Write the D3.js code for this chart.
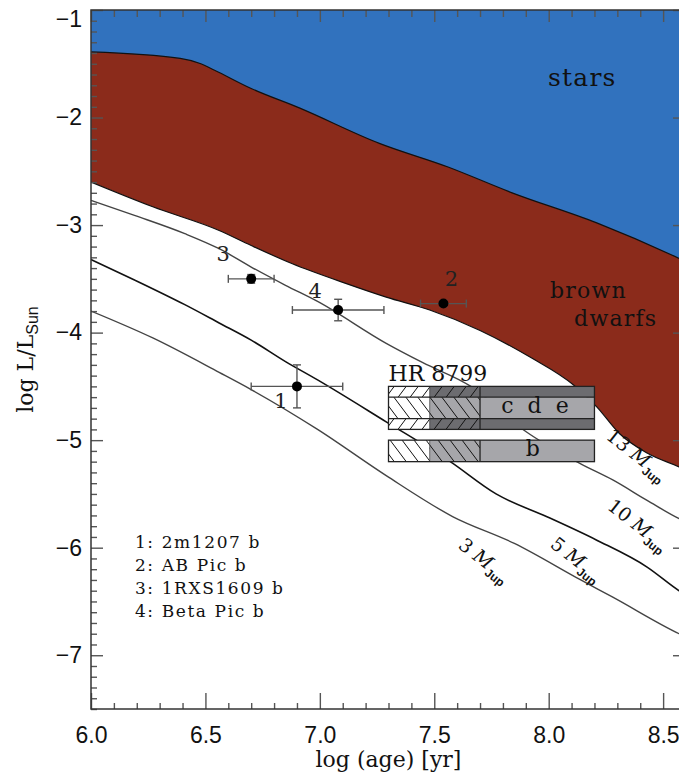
<!DOCTYPE html>
<html><head><meta charset="utf-8">
<script src="https://cdn.jsdelivr.net/npm/d3@7"></script>
<style>body{margin:0;background:#fff}svg{display:block}</style>
</head><body><svg id="chart" width="679" height="781"></svg>
<script>
// ---------- data ----------
const ageTicks = [6.0, 6.5, 7.0, 7.5, 8.0, 8.5];
const lumTicks = [-1, -2, -3, -4, -5, -6, -7];

// stars / brown-dwarf boundary
const starsAge = [6.0, 6.39, 6.48, 6.54, 6.70, 6.91, 7.26, 7.56, 7.84, 8.21, 8.57, 8.6];
const starsLum = [-1.39, -1.45, -1.50, -1.56, -1.73, -1.91, -2.24, -2.46, -2.70, -2.98, -3.31, -3.34];
// 13 MJup (lower edge of brown-dwarf region)
const age13 = [6.0, 6.27, 6.56, 6.70, 6.88, 7.11, 7.29, 7.48, 7.70, 7.92, 8.11, 8.21, 8.31, 8.43, 8.57, 8.6];
const lum13 = [-2.60, -2.83, -3.05, -3.19, -3.36, -3.54, -3.67, -3.79, -3.98, -4.23, -4.49, -4.69, -4.94, -5.12, -5.25, -5.28];
// 10 MJup
const age10 = [6.0, 6.19, 6.41, 6.56, 6.70, 6.85, 6.99, 7.29, 7.45, 7.66, 7.90, 8.14, 8.28, 8.43, 8.57, 8.6];
const lum10 = [-2.77, -2.91, -3.08, -3.22, -3.39, -3.56, -3.71, -4.10, -4.28, -4.50, -4.92, -5.22, -5.37, -5.56, -5.73, -5.76];
// 5 MJup
const age5 = [6.0, 6.19, 6.41, 6.56, 6.70, 6.85, 6.99, 7.29, 7.57, 7.77, 7.99, 8.21, 8.43, 8.57, 8.6];
const lum5 = [-3.32, -3.51, -3.74, -3.91, -4.07, -4.27, -4.44, -4.83, -5.20, -5.50, -5.71, -5.93, -6.18, -6.40, -6.44];
// 3 MJup
const age3 = [6.0, 6.27, 6.56, 6.70, 6.99, 7.29, 7.58, 7.85, 8.14, 8.28, 8.57, 8.6];
const lum3 = [-3.80, -4.05, -4.37, -4.53, -4.90, -5.33, -5.71, -5.96, -6.30, -6.46, -6.80, -6.83];

// companions
const ptIds = ["1", "2", "3", "4"];
const ptAge = [6.90, 7.54, 6.70, 7.08];
const ptAgeErr = [0.20, 0.10, 0.10, 0.20];
const ptLum = [-4.50, -3.73, -3.50, -3.79];
const ptLumErr = [0.20, 0.03, 0.04, 0.10];
const legendNames = ["1: 2m1207 b", "2: AB Pic b", "3: 1RXS1609 b", "4: Beta Pic b"];

// HR 8799 (age bounds: 20, 30, 50, 160 Myr)
const hrAge = [7.30, 7.48, 7.70, 8.20];
const cdeOuter = [-4.9, -4.5];
const cdeInner = [-4.8, -4.6];
const bLum = [-5.2, -5.0];

// ---------- setup ----------
const svg = d3.select("#chart");
const x = d3.scaleLinear().domain([6.0, 8.6]).range([91, 686]);
const y = d3.scaleLinear().domain([-7.5, -1]).range([709, 10]);
const SERIF = "DejaVu Serif, serif";
const SANS = "Liberation Sans, Arial, sans-serif";

const defs = svg.append("defs");
defs.append("clipPath").attr("id", "plotclip").append("rect")
  .attr("x", 91).attr("y", 10).attr("width", 595).attr("height", 699);
function hatch(id, dir) {
  const p = defs.append("pattern").attr("id", id).attr("patternUnits", "userSpaceOnUse")
    .attr("width", 12).attr("height", 16);
  const d = dir === "back"
    ? "M-3,-4 L15,20 M-15,-4 L3,20 M9,-4 L27,20"
    : "M-3,20 L15,-4 M-15,20 L3,-4 M9,20 L27,-4";
  p.append("path").attr("d", d).attr("stroke", "#111").attr("stroke-width", 1).attr("fill", "none");
}
hatch("hback", "back");
hatch("hfwd", "fwd");

const plot = svg.append("g").attr("clip-path", "url(#plotclip)");
const zip = (a, b) => a.map((v, i) => [v, b[i]]);
const yTopVal = y.domain()[1];

// brown region (from 13 MJup up), then stars on top
const area = d3.area().x(d => x(d[0])).y0(y(yTopVal)).y1(d => y(d[1])).curve(d3.curveMonotoneX);
plot.append("path").datum(zip(age13, lum13)).attr("d", area).attr("fill", "#8b2b1b");
plot.append("path").datum(zip(starsAge, starsLum)).attr("d", area).attr("fill", "#3172be");

const line = d3.line().x(d => x(d[0])).y(d => y(d[1])).curve(d3.curveMonotoneX);
plot.append("path").datum(zip(starsAge, starsLum)).attr("d", line).attr("fill", "none").attr("stroke", "#111").attr("stroke-width", 1.2);
plot.append("path").datum(zip(age13, lum13)).attr("d", line).attr("fill", "none").attr("stroke", "#111").attr("stroke-width", 1.2);
plot.append("path").datum(zip(age10, lum10)).attr("d", line).attr("fill", "none").attr("stroke", "#444").attr("stroke-width", 1.4);
plot.append("path").datum(zip(age5, lum5)).attr("d", line).attr("fill", "none").attr("stroke", "#111").attr("stroke-width", 1.6);
plot.append("path").datum(zip(age3, lum3)).attr("d", line).attr("fill", "none").attr("stroke", "#444").attr("stroke-width", 1.4);

// ---------- HR 8799 boxes ----------
const DARK = "#6c6c70", LIGHT = "#a6a6aa";
function band(l0, l1, baseCols, hatchId) {
  for (let i = 0; i < 3; i++) {
    const xa = x(hrAge[i]), xb = x(hrAge[i + 1]);
    plot.append("rect").attr("x", xa).attr("y", y(l1)).attr("width", xb - xa).attr("height", y(l0) - y(l1))
      .attr("fill", baseCols[i]);
    if (i < 2) plot.append("rect").attr("x", xa).attr("y", y(l1)).attr("width", xb - xa).attr("height", y(l0) - y(l1))
      .attr("fill", `url(#${hatchId})`);
  }
}
band(cdeInner[1], cdeOuter[1], ["#fff", DARK, DARK], "hfwd");
band(cdeInner[0], cdeInner[1], ["#fff", LIGHT, LIGHT], "hback");
band(cdeOuter[0], cdeInner[0], ["#fff", DARK, DARK], "hfwd");
band(bLum[0], bLum[1], ["#fff", LIGHT, LIGHT], "hback");
const boxStroke = "#222";
[[cdeOuter[0], cdeOuter[1]], [bLum[0], bLum[1]]].forEach(r => {
  plot.append("rect").attr("x", x(hrAge[0])).attr("y", y(r[1])).attr("width", x(hrAge[3]) - x(hrAge[0]))
    .attr("height", y(r[0]) - y(r[1])).attr("fill", "none").attr("stroke", boxStroke).attr("stroke-width", 1.3);
  [hrAge[1], hrAge[2]].forEach(a => plot.append("line").attr("x1", x(a)).attr("x2", x(a))
    .attr("y1", y(r[1])).attr("y2", y(r[0])).attr("stroke", boxStroke).attr("stroke-width", a === hrAge[2] ? 1.3 : 0.6));
});
cdeInner.forEach(l => plot.append("line").attr("x1", x(hrAge[0])).attr("x2", x(hrAge[3]))
  .attr("y1", y(l)).attr("y2", y(l)).attr("stroke", boxStroke).attr("stroke-width", 1.3));

svg.append("text").attr("x", x(hrAge[0])).attr("y", y(-4.451)).attr("font-family", SERIF).attr("font-size", 22)
  .attr("fill", "#111").text("HR 8799");
svg.append("text").attr("x", x(7.94)).attr("y", y(-4.749)).attr("text-anchor", "middle").attr("font-family", SERIF)
  .attr("font-size", 22).attr("fill", "#111").attr("xml:space", "preserve").text("c  d  e");
svg.append("text").attr("x", x(7.93)).attr("y", y(-5.15)).attr("text-anchor", "middle").attr("font-family", SERIF)
  .attr("font-size", 22).attr("fill", "#111").text("b");

// ---------- companions with error bars ----------
const eb = svg.append("g").attr("stroke", "#555").attr("stroke-width", 1.4);
ptIds.forEach((id, i) => {
  const cx = x(ptAge[i]), cy = y(ptLum[i]);
  const xa = x(ptAge[i] - ptAgeErr[i]), xb = x(ptAge[i] + ptAgeErr[i]);
  const ya = y(ptLum[i] - ptLumErr[i]), yb = y(ptLum[i] + ptLumErr[i]);
  eb.append("line").attr("x1", xa).attr("x2", xb).attr("y1", cy).attr("y2", cy);
  eb.append("line").attr("x1", xa).attr("x2", xa).attr("y1", cy - 4).attr("y2", cy + 4);
  eb.append("line").attr("x1", xb).attr("x2", xb).attr("y1", cy - 4).attr("y2", cy + 4);
  eb.append("line").attr("x1", cx).attr("x2", cx).attr("y1", ya).attr("y2", yb);
  eb.append("line").attr("x1", cx - 4).attr("x2", cx + 4).attr("y1", ya).attr("y2", ya);
  eb.append("line").attr("x1", cx - 4).attr("x2", cx + 4).attr("y1", yb).attr("y2", yb);
  svg.append("circle").attr("cx", cx).attr("cy", cy).attr("r", 5).attr("fill", "#000");
});
const ptLabelOff = [[-16, 22], [8, -18], [-28, -18], [-23, -12]];
ptIds.forEach((id, i) => {
  svg.append("text").attr("x", x(ptAge[i]) + ptLabelOff[i][0]).attr("y", y(ptLum[i]) + ptLabelOff[i][1])
    .attr("text-anchor", "middle").attr("font-family", SERIF).attr("font-size", 21).attr("fill", "#222").text(id);
});

// ---------- legend ----------
legendNames.forEach((t, i) => {
  svg.append("text").attr("x", x(6.192)).attr("y", y(-6.005) + i * 22.8).attr("font-family", SERIF)
    .attr("font-size", 17).attr("letter-spacing", 1.6).attr("fill", "#111").text(t);
});

// ---------- region labels ----------
const regionText = (t, a, l, fs) => svg.append("text").attr("x", x(a)).attr("y", y(l)).attr("font-family", SERIF)
  .attr("font-size", fs).attr("letter-spacing", 1.2).attr("fill", "#111").text(t);
regionText("stars", 7.997, -1.707, 25);
regionText("brown", 8.006, -3.68, 22);
regionText("dwarfs", 8.111, -3.94, 22);

// ---------- mass labels ----------
function massLabel(n, a, l, ang) {
  const t = svg.append("text").attr("transform", `translate(${x(a)},${y(l)}) rotate(${ang})`)
    .attr("font-family", SERIF).attr("font-size", 19).attr("fill", "#111");
  t.append("tspan").attr("xml:space", "preserve").text(n + " ");
  t.append("tspan").attr("font-style", "italic").text("M");
  t.append("tspan").attr("font-family", SANS).attr("font-weight", "bold").attr("font-size", 12).attr("dy", 5).text("Jup");
}
massLabel("13", 8.246, -4.98, 38);
massLabel("10", 8.251, -5.633, 38);
massLabel("5", 8.002, -5.986, 38);
massLabel("3", 7.60, -5.995, 38);

// ---------- axes ----------
const minorAge = d3.range(60, 87).map(v => v / 10).filter(v => Math.abs(v * 2 - Math.round(v * 2)) > 1e-6);
const minorLum = d3.range(-75, -9).map(v => v / 10).filter(v => Math.abs(v - Math.round(v)) > 1e-6);
function tidy(g) {
  g.select(".domain").remove();
  g.selectAll("line").attr("stroke", "#555").attr("stroke-width", 1.4);
  g.selectAll("text").attr("font-family", SANS).attr("font-size", 23).attr("fill", "#111");
}
svg.append("g").attr("transform", "translate(0,709)")
  .call(d3.axisBottom(x).tickValues(ageTicks).tickSize(-16).tickPadding(18).tickFormat(d3.format(".1f"))).call(tidy);
svg.append("g").attr("transform", "translate(0,709)")
  .call(d3.axisBottom(x).tickValues(minorAge).tickSize(-6).tickFormat("")).call(tidy);
svg.append("g").attr("transform", "translate(0,10)")
  .call(d3.axisTop(x).tickValues(ageTicks).tickSize(-12).tickFormat("")).call(tidy);
svg.append("g").attr("transform", "translate(0,10)")
  .call(d3.axisTop(x).tickValues(minorAge).tickSize(-7).tickFormat("")).call(tidy);
const yAx = svg.append("g").attr("transform", "translate(91,0)")
  .call(d3.axisLeft(y).tickValues(lumTicks).tickSize(-12).tickPadding(9).tickFormat(d3.format("d"))).call(tidy);
yAx.selectAll(".tick text").filter(d => d === -1).attr("transform", "translate(0,9)");
svg.append("g").attr("transform", "translate(91,0)")
  .call(d3.axisLeft(y).tickValues(minorLum).tickSize(-6).tickFormat("")).call(tidy);
svg.append("g").attr("transform", "translate(686,0)")
  .call(d3.axisRight(y).tickValues(lumTicks).tickSize(-13).tickFormat("")).call(tidy);
svg.append("g").attr("transform", "translate(686,0)")
  .call(d3.axisRight(y).tickValues(minorLum).tickSize(-6).tickFormat("")).call(tidy);

svg.append("rect").attr("x", 91).attr("y", 10).attr("width", 595).attr("height", 699)
  .attr("fill", "none").attr("stroke", "#333").attr("stroke-width", 1.5);

// axis titles
svg.append("text").attr("x", (x(6.0) + x(8.6)) / 2).attr("y", 767).attr("text-anchor", "middle")
  .attr("font-family", SERIF).attr("font-size", 22).attr("fill", "#111").text("log (age) [yr]");
const yl = svg.append("text").attr("transform", `translate(33,${(y(-1) + y(-7.5)) / 2}) rotate(-90)`)
  .attr("text-anchor", "middle").attr("font-family", SERIF).attr("font-size", 22).attr("fill", "#111");
yl.append("tspan").text("log L/L");
yl.append("tspan").attr("font-family", SANS).attr("font-size", 16).attr("dy", 5).text("Sun");
</script></body></html>
